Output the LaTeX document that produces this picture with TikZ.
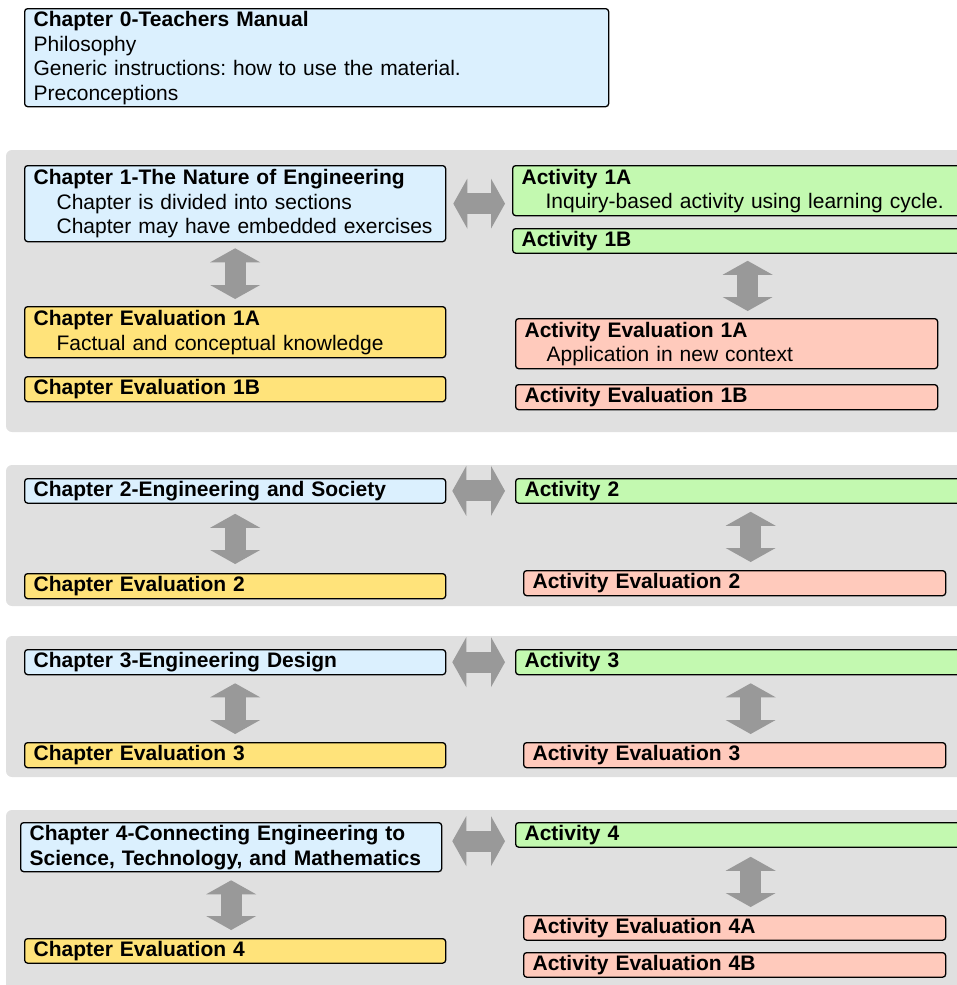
\documentclass[tikz,border=0pt]{standalone}
\usepackage{fontspec}
\setmainfont{Liberation Sans}
\usetikzlibrary{arrows.meta}
\definecolor{chblue}{RGB}{219,240,254}
\definecolor{evyellow}{RGB}{255,227,122}
\definecolor{actgreen}{RGB}{195,249,176}
\definecolor{aevsalmon}{RGB}{255,202,188}
\definecolor{panelgray}{RGB}{224,224,224}
\definecolor{arrowgray}{RGB}{153,153,153}
\newcommand{\boxstrut}{\leavevmode\vrule width0pt height17.9pt depth6.6pt}
\frenchspacing
\begin{document}
\begin{tikzpicture}[x=1pt,y=-1pt,
    box/.style={draw=black,line width=1.3pt,rounded corners=3pt,anchor=north west,align=left,
      inner xsep=9pt,inner ysep=0pt,font=\fontsize{21}{24.5}\selectfont,
      execute at begin node=\boxstrut,execute at end node=\boxstrut},
    chapbox/.style={box,fill=chblue,minimum width=421,text width=403},
    evbox/.style={box,fill=evyellow,minimum width=421,text width=403},
    actbox/.style={box,fill=actgreen,minimum width=470,text width=452},
    aevbox/.style={box,fill=aevsalmon,minimum width=422,text width=404},
    panel/.style={fill=panelgray,rounded corners=6pt},
    link/.style={draw=arrowgray,line width=21pt,
      {Triangle[width=50pt,length=14pt,line width=0pt]}-{Triangle[width=50pt,length=14pt,line width=0pt]}}]
  \useasboundingbox (0,0) rectangle (956,985);
  \fill[panel] (6,150) rectangle (990,432);
  \fill[panel] (6,465) rectangle (990,606);
  \fill[panel] (6,636) rectangle (990,777);
  \fill[panel] (6,810) rectangle (990,1010);

  \node[chapbox,minimum width=584,text width=566,minimum height=98] (ch0) at (24,8)
    {\textbf{Chapter 0-Teachers Manual}\\Philosophy\\Generic instructions: how to use the material.\\Preconceptions};

  \node[chapbox,minimum height=76] (ch1) at (24,165)
    {\textbf{Chapter 1-The Nature of Engineering}\\\hspace*{23pt}\mbox{Chapter is divided into sections}\\\hspace*{23pt}\mbox{Chapter may have embedded exercises}};
  \node[actbox,minimum height=50] (act1a) at (512,165)
    {\textbf{Activity 1A}\\\hspace*{24pt}\mbox{Inquiry-based activity using learning cycle.}};
  \node[actbox,minimum height=24] (act1b) at (512,228) {\textbf{Activity 1B}};
  \node[evbox,minimum height=51] (ce1a) at (24,306)
    {\textbf{Chapter Evaluation 1A}\\\hspace*{23pt}Factual and conceptual knowledge};
  \node[evbox,minimum height=25] (ce1b) at (24,376) {\textbf{Chapter Evaluation 1B}};
  \node[aevbox,minimum height=50] (ae1a) at (515,318)
    {\textbf{Activity Evaluation 1A}\\\hspace*{22pt}Application in new context};
  \node[aevbox,minimum height=25] (ae1b) at (515,384) {\textbf{Activity Evaluation 1B}};
  \draw[link,shorten <=7pt,shorten >=7pt] (ch1.east) -- (ch1.east -| act1a.west);
  \draw[link,shorten <=6pt,shorten >=7pt] (ch1.south) -- (ce1a.north);
  \draw[link,shorten <=7pt,shorten >=7pt] (act1b.south) -- (act1b.south |- ae1a.north);

  \node[chapbox,minimum height=24] (ch2) at (24,478) {\textbf{Chapter 2-Engineering and Society}};
  \node[actbox,minimum height=24] (act2) at (515,478) {\textbf{Activity 2}};
  \node[evbox,minimum height=25] (ce2) at (24,573) {\textbf{Chapter Evaluation 2}};
  \node[aevbox,minimum height=25] (ae2) at (523,570) {\textbf{Activity Evaluation 2}};
  \draw[link,shorten <=6pt,shorten >=10pt] (ch2.east) -- (ch2.east -| act2.west);
  \draw[link,shorten <=10pt,shorten >=9pt] (ch2.south) -- (ce2.north);
  \draw[link,shorten <=8pt,shorten >=8pt] (act2.south) -- (act2.south |- ae2.north);

  \node[chapbox,minimum height=25] (ch3) at (24,649) {\textbf{Chapter 3-Engineering Design}};
  \node[actbox,minimum height=25] (act3) at (515,649) {\textbf{Activity 3}};
  \node[evbox,minimum height=25] (ce3) at (24,742) {\textbf{Chapter Evaluation 3}};
  \node[aevbox,minimum height=25] (ae3) at (523,742) {\textbf{Activity Evaluation 3}};
  \draw[link,shorten <=6pt,shorten >=10pt] (ch3.east) -- (ch3.east -| act3.west);
  \draw[link,shorten <=8pt,shorten >=8pt] (ch3.south) -- (ce3.north);
  \draw[link,shorten <=8pt,shorten >=8pt] (act3.south) -- (act3.south |- ae3.north);

  \node[chapbox,minimum height=49] (ch4) at (20,822)
    {\textbf{Chapter 4-Connecting Engineering to}\\\textbf{Science, Technology, and Mathematics}};
  \node[actbox,minimum height=24] (act4) at (515,822) {\textbf{Activity 4}};
  \node[evbox,minimum height=24] (ce4) at (24,938) {\textbf{Chapter Evaluation 4}};
  \node[aevbox,minimum height=24] (ae4a) at (523,915) {\textbf{Activity Evaluation 4A}};
  \node[aevbox,minimum height=24] (ae4b) at (523,952) {\textbf{Activity Evaluation 4B}};
  \draw[link,shorten <=10pt,shorten >=10pt] ([yshift=6pt]ch4.east) -- ([yshift=6pt]ch4.east -| act4.west);
  \draw[link,shorten <=8pt,shorten >=8pt] (ch4.south) -- (ch4.south |- ce4.north);
  \draw[link,shorten <=9pt,shorten >=8pt] (act4.south) -- (act4.south |- ae4a.north);
\end{tikzpicture}
\end{document}
